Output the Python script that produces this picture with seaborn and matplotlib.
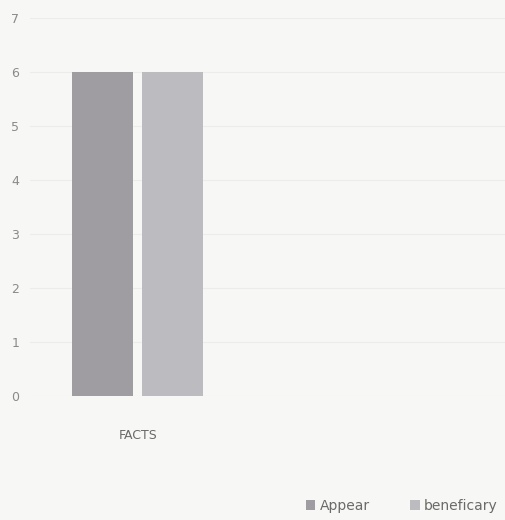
import pandas as pd
import seaborn as sns
import matplotlib.pyplot as plt

# 数据
categories = ['FACTS']
series_names = ['Appear', 'beneficary']
appear_values = [6]
beneficary_values = [6]
y_ticks = [0, 1, 2, 3, 4, 5, 6, 7]

df = pd.DataFrame({
    'category': categories * 2,
    'series': [series_names[0]] * len(categories) + [series_names[1]] * len(categories),
    'value': appear_values + beneficary_values,
})

sns.set_style('white')
plt.rcParams['font.family'] = ['DejaVu Sans']

fig = plt.figure(figsize=(5.05, 5.2), dpi=100, facecolor='#f7f7f5')
ax = fig.add_axes([0.06, 0.2385, 0.94, 0.7269])
ax.set_facecolor('#f7f7f5')

sns.barplot(data=df, x='category', y='value', hue='series',
            palette=['#9f9ca2', '#bcbbc0'], width=0.855, gap=0.128,
            saturation=1, linewidth=0, ax=ax, legend=True)

ax.set_xlim(-0.656, 2.24)
ax.set_ylim(0, 7)
ax.set_yticks(y_ticks)
ax.set_xlabel('')
ax.set_ylabel('')
ax.grid(axis='y', color='#ececea', linewidth=0.8)
ax.set_axisbelow(True)
for s in ax.spines.values():
    s.set_visible(False)
ax.tick_params(axis='y', colors='#8a8a8a', labelsize=9, length=0, pad=8)
ax.tick_params(axis='x', colors='#6a6a6a', labelsize=9, length=0, pad=24)

# 图例
handles, labels = ax.get_legend_handles_labels()
ax.get_legend().remove()
fig.legend(handles, labels, loc='lower right', bbox_to_anchor=(1.01, -0.01),
           ncol=2, frameon=False, fontsize=10, handlelength=0.7, handleheight=0.7,
           handletextpad=0.3, columnspacing=2.9, labelcolor='#6a6a6a')

plt.savefig('out.png', dpi=100, facecolor=fig.get_facecolor())
